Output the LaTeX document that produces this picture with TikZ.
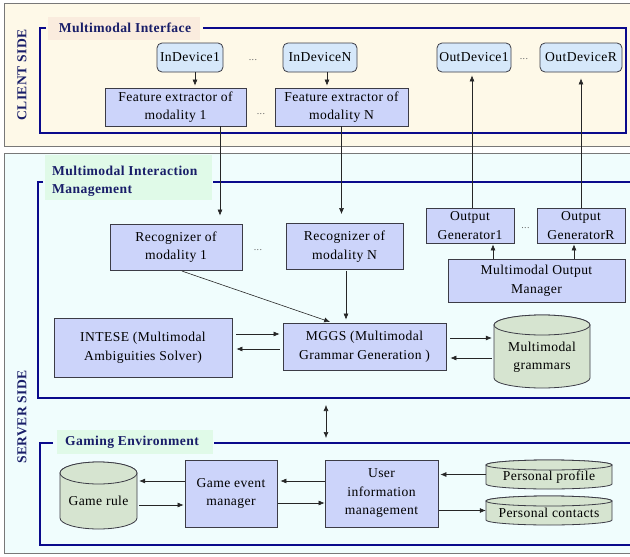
\documentclass[tikz,border=0pt]{standalone}
\usepackage{fontspec}
\setmainfont{Liberation Serif}[LetterSpace=3]
\usetikzlibrary{arrows.meta}
\definecolor{navy}{RGB}{10,10,140}
\definecolor{titlecol}{RGB}{25,30,105}
\definecolor{boxline}{RGB}{60,60,70}
\definecolor{boxfill}{RGB}{204,212,250}
\definecolor{devfill}{RGB}{214,232,250}
\definecolor{cylfill}{RGB}{214,228,208}
\definecolor{clientbg}{RGB}{254,249,232}
\definecolor{serverbg}{RGB}{240,253,253}
\definecolor{panelline}{RGB}{120,120,120}
\definecolor{mibg}{RGB}{250,236,222}
\definecolor{greenbg}{RGB}{224,250,232}
\newcommand{\fsbox}{\fontsize{13.6}{18.5}\selectfont}
\newcommand{\fstitle}{\fontsize{13.6}{18}\selectfont\bfseries}
\newcommand{\drawcylinder}[5]{%
  \pgfmathsetmacro\cylcx{(#1+#3)/2}%
  \pgfmathsetmacro\cylrx{(#3-#1)/2}%
  \filldraw[cyl] (#1,#2+#5) -- (#1,#4-#5) arc[start angle=180,end angle=360,x radius=\cylrx pt,y radius=#5pt] -- (#3,#2+#5) arc[start angle=0,end angle=180,x radius=\cylrx pt,y radius=#5pt] -- cycle;
  \draw[cyl] (\cylcx,#2+#5) ellipse[x radius=\cylrx pt,y radius=#5pt];
}
\begin{document}
\begin{tikzpicture}[x=1pt,y=-1pt,
  box/.style={draw=boxline, fill=boxfill, line width=0.8pt, align=center, inner sep=0pt, font=\fsbox},
  dev/.style={box, fill=devfill, rounded corners=5pt},
  arr/.style={-{Latex[length=6pt,width=5pt]}, line width=0.6pt, draw=black!85},
  darr/.style={{Latex[length=6pt,width=5pt]}-{Latex[length=6pt,width=5pt]}, line width=0.6pt, draw=black!85},
  cyl/.style={draw=boxline, fill=cylfill, line width=0.8pt},
  frame/.style={draw=navy, line width=2.5pt},
  ttl/.style={font=\fstitle, text=titlecol, inner sep=0pt},
  txt/.style={font=\fsbox, align=center, inner sep=0pt},
  hole/.style={inner sep=0pt, draw=none},
  dots/.style={font=\fontsize{10}{10}\selectfont, text=black!60, inner sep=0pt}]
\useasboundingbox (0,0) rectangle (630,557);

% panels
\draw[fill=clientbg, draw=panelline, line width=0.8pt] (4,3) rectangle (640,146);
\draw[fill=serverbg, draw=panelline, line width=0.8pt] (4,153) rectangle (640,553);
\node[ttl, rotate=90] (client) at (22,75) {CLIENT SIDE};
\node[ttl, rotate=90] (server) at (22,417) {SERVER SIDE};

% frames
\draw[frame] (46,28) -- (40,28) -- (40,133) -- (626,133) -- (626,28) -- (203,28);
\fill[mibg] (48,17) rectangle (200,40);
\node[ttl] (mi) at (125,28) {Multimodal Interface};

\draw[frame] (43,182) -- (38,182) -- (38,398) -- (632,398);
\draw[frame] (213,182) -- (632,182);
\fill[greenbg] (45,155) rectangle (212,200);
\node[ttl, anchor=west, align=left] (mim) at (52,181) {Multimodal Interaction\\Management};

\draw[frame] (53,443) -- (40,443) -- (40,545) -- (632,545);
\draw[frame] (214,443) -- (632,443);
\fill[greenbg] (57,430) rectangle (213,454);
\node[ttl] (ge) at (132,442) {Gaming Environment};

% client nodes
\node[dev, minimum width=66pt, minimum height=29pt] (in1) at (190,57.5) {InDevice1};
\node[dev, minimum width=74pt, minimum height=29pt] (inN) at (320,57.5) {InDeviceN};
\node[dev, minimum width=74pt, minimum height=29pt] (out1) at (474,57.5) {OutDevice1};
\node[dev, minimum width=82pt, minimum height=29pt] (outR) at (581,57.5) {OutDeviceR};
\node[box, minimum width=141pt, minimum height=38pt] (feat1) at (175.5,107) {Feature extractor of\\modality 1};
\node[box, minimum width=133pt, minimum height=38pt] (featN) at (341.5,107) {Feature extractor of\\modality N};
\node[dots] (d1) at (253,60) {...};
\node[dots] (d2) at (261,114) {...};
\node[dots] (d3) at (524,59) {...};

% server nodes
\node[box, minimum width=132pt, minimum height=46pt] (rec1) at (176,247) {Recognizer of\\modality 1};
\node[box, minimum width=117pt, minimum height=46pt] (recN) at (344.5,246.5) {Recognizer of\\modality N};
\node[dots] (d4) at (258,250) {...};
\node[box, minimum width=88pt, minimum height=35pt] (og1) at (470,225.5) {Output\\Generator1};
\node[box, minimum width=88pt, minimum height=35pt] (ogR) at (581,225.5) {Output\\GeneratorR};
\node[dots] (d5) at (525.5,228) {...};
\node[box, minimum width=177pt, minimum height=43pt] (mom) at (536.5,280.5) {Multimodal Output\\Manager};
\node[box, minimum width=178pt, minimum height=59pt] (intese) at (143,347.5) {INTESE (Multimodal\\Ambiguities Solver)};
\node[box, minimum width=163pt, minimum height=47pt] (mggs) at (364.5,346.5) {MGGS (Multimodal\\Grammar Generation )};
\drawcylinder{494}{315}{590}{388}{10}
\node[hole, minimum width=96pt, minimum height=73pt] (gram) at (542,351.5) {};
\node[txt] (gramtxt) at (542,357) {Multimodal\\grammars};

% gaming environment nodes
\drawcylinder{60}{462}{137}{529}{11}
\node[hole, minimum width=77pt, minimum height=67pt] (rule) at (98.5,495.5) {};
\node[txt] (ruletxt) at (98.5,501) {Game rule};
\node[box, minimum width=92pt, minimum height=67pt] (gem) at (231,493.5) {Game event\\manager};
\node[box, minimum width=113pt, minimum height=67pt] (uim) at (381.5,493.5) {User\\information\\management};
\drawcylinder{486}{460}{612}{489}{5}
\node[hole, minimum width=126pt, minimum height=29pt] (pp) at (549,474.5) {};
\node[txt] (pptxt) at (549,477) {Personal profile};
\drawcylinder{486}{496}{612}{525}{5}
\node[hole, minimum width=126pt, minimum height=29pt] (pc) at (549,510.5) {};
\node[txt] (pctxt) at (549,512.5) {Personal contacts};

% connectors client
\draw[arr, shorten >=2pt] ([xshift=5pt]in1.south) -- ([xshift=5pt]in1.south |- feat1.north);
\draw[arr, shorten >=2pt] ([xshift=7pt]inN.south) -- ([xshift=7pt]inN.south |- featN.north);
\draw[arr, shorten >=8pt] ([xshift=44.5pt]feat1.south) -- ([xshift=44.5pt]feat1.south |- rec1.north);
\draw[arr, shorten >=9pt] (featN.south) -- (featN.south |- recN.north);
\draw[arr, shorten >=3pt] ([xshift=2pt]og1.north) -- ([xshift=2pt]og1.north |- out1.south);
\draw[arr, shorten >=6pt] (ogR.north) -- (ogR.north |- outR.south);
\draw[arr, shorten >=1pt] ([xshift=-43.5pt]mom.north) -- ([xshift=-43.5pt]mom.north |- og1.south);
\draw[arr, shorten >=1pt] ([xshift=37.5pt]mom.north) -- ([xshift=37.5pt]mom.north |- ogR.south);

% connectors server
\draw[arr, shorten <=2pt, shorten >=2pt] ([xshift=4pt]rec1.south) -- ([xshift=-32.5pt]mggs.north);
\draw[arr, shorten <=1pt, shorten >=3pt] ([xshift=1.5pt]recN.south) -- ([xshift=1.5pt]recN.south |- mggs.north);
\draw[arr, shorten <=4pt, shorten >=3pt] ([yshift=13.5pt]intese.east) -- ([yshift=13.5pt]intese.east -| mggs.west);
\draw[arr, shorten <=3pt, shorten >=4pt] ([yshift=-2.5pt]mggs.west) -- ([yshift=-2.5pt]mggs.west -| intese.east);
\draw[arr, shorten <=4pt, shorten >=2pt] ([yshift=8.5pt]mggs.east) -- ([yshift=8.5pt]mggs.east -| gram.west);
\draw[arr, shorten <=2pt, shorten >=4pt] ([yshift=-6.5pt]gram.west) -- ([yshift=-6.5pt]gram.west -| mggs.east);
\coordinate (mimb) at (326,405);
\coordinate (get) at (326,438);
\draw[darr] (mimb) -- (get);

% connectors gaming
\draw[arr, shorten >=2pt] ([yshift=12.5pt]gem.west) -- ([yshift=12.5pt]gem.west -| rule.east);
\draw[arr, shorten <=2pt, shorten >=1pt] ([yshift=-9.5pt]rule.east) -- ([yshift=-9.5pt]rule.east -| gem.west);
\draw[arr, shorten >=3pt] ([yshift=12.5pt]uim.west) -- ([yshift=12.5pt]uim.west -| gem.east);
\draw[arr, shorten <=1pt] ([yshift=-9.5pt]gem.east) -- ([yshift=-9.5pt]gem.east -| uim.west);
\draw[arr, shorten >=2pt] (pp.west) -- (pp.west -| uim.east);
\draw[arr, shorten <=1pt] (pc.west -| uim.east) -- (pc.west);
\end{tikzpicture}
\end{document}
